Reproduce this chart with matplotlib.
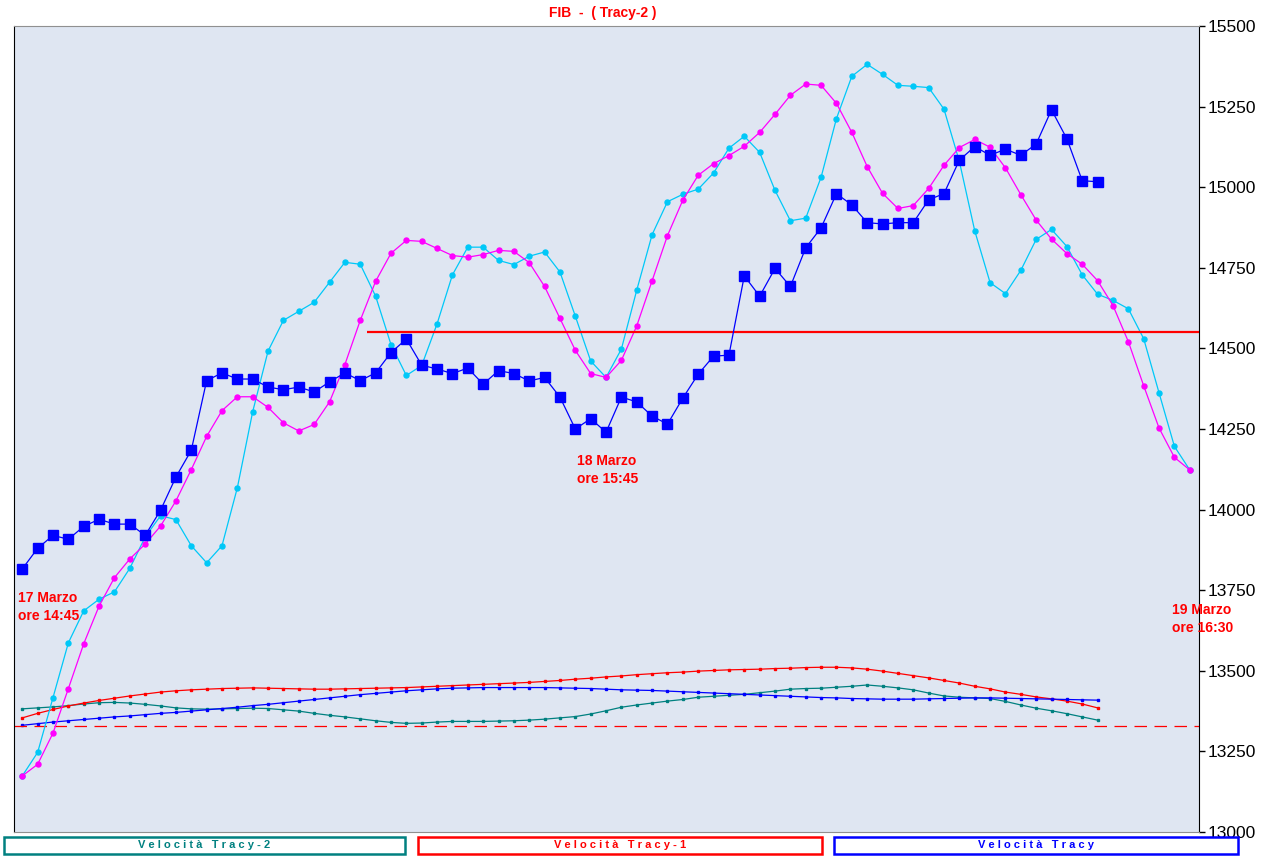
import matplotlib
matplotlib.use("Agg")
import matplotlib.pyplot as plt
from matplotlib.patches import Rectangle

plt.rcParams['font.family'] = ['Liberation Sans', 'DejaVu Sans']

# prezzo FIB (quadrati blu)
fib = [13816, 13880, 13920, 13908, 13948, 13970, 13955, 13955, 13920, 13998,
       14101, 14184, 14400, 14424, 14405, 14405, 14380, 14372, 14380, 14365,
       14396, 14424, 14400, 14424, 14487, 14529, 14448, 14436, 14422, 14439,
       14389, 14431, 14422, 14399, 14410, 14349, 14250, 14282, 14240, 14349,
       14334, 14290, 14265, 14346, 14420, 14476, 14479, 14725, 14662, 14748,
       14692, 14812, 14874, 14980, 14945, 14890, 14886, 14890, 14890, 14961,
       14980, 15084, 15126, 15099, 15118, 15099, 15134, 15240, 15150, 15020, 15017]

# curva magenta
tracy_1 = [13174, 13210, 13307, 13445, 13584, 13701, 13789, 13847, 13893, 13949,
           14027, 14124, 14227, 14307, 14350, 14350, 14317, 14269, 14244, 14264,
           14334, 14450, 14587, 14708, 14795, 14835, 14832, 14810, 14788, 14783,
           14791, 14804, 14801, 14766, 14692, 14593, 14494, 14422, 14410, 14463,
           14570, 14710, 14850, 14960, 15037, 15073, 15098, 15127, 15170, 15226,
           15285, 15320, 15316, 15260, 15170, 15064, 14981, 14934, 14943, 14996,
           15068, 15123, 15148, 15124, 15060, 14977, 14898, 14839, 14794, 14761,
           14710, 14633, 14521, 14384, 14253, 14162, 14123]

# curva azzurra
tracy_2 = [13174, 13247, 13417, 13587, 13686, 13722, 13745, 13818, 13915, 13981,
           13969, 13888, 13835, 13888, 14068, 14304, 14492, 14587, 14615, 14643,
           14705, 14767, 14761, 14662, 14512, 14416, 14447, 14576, 14728, 14814,
           14814, 14773, 14760, 14786, 14799, 14737, 14600, 14461, 14410, 14498,
           14681, 14853, 14955, 14978, 14994, 15044, 15121, 15158, 15108, 14990,
           14896, 14904, 15031, 15213, 15344, 15381, 15350, 15316, 15313, 15309,
           15242, 15080, 14865, 14704, 14670, 14742, 14838, 14869, 14816, 14728,
           14668, 14649, 14623, 14530, 14362, 14196, 14123]

# velocita'
vel_tracy2 = [13382, 13385, 13388, 13392, 13397, 13401, 13402, 13400, 13396, 13391,
              13385, 13382, 13381, 13382, 13383, 13384, 13383, 13379, 13375, 13368,
              13362, 13357, 13351, 13345, 13340, 13337, 13338, 13341, 13343, 13343,
              13343, 13344, 13345, 13347, 13350, 13354, 13358, 13366, 13376, 13387,
              13394, 13400, 13406, 13411, 13418, 13421, 13424, 13427, 13432, 13437,
              13443, 13445, 13446, 13449, 13452, 13456, 13452, 13447, 13441, 13431,
              13422, 13418, 13416, 13414, 13405, 13394, 13384, 13376, 13367, 13357, 13347]

vel_tracy1 = [13354, 13368, 13380, 13391, 13400, 13408, 13415, 13422, 13428, 13434,
              13438, 13441, 13443, 13445, 13446, 13447, 13446, 13445, 13444, 13443,
              13443, 13444, 13445, 13446, 13447, 13448, 13450, 13452, 13454, 13456,
              13458, 13460, 13462, 13464, 13467, 13470, 13474, 13477, 13481, 13484,
              13488, 13491, 13494, 13496, 13499, 13501, 13503, 13504, 13505, 13507,
              13508, 13510, 13511, 13511, 13509, 13505, 13499, 13492, 13485, 13478,
              13470, 13462, 13452, 13444, 13434, 13427, 13419, 13413, 13406, 13397, 13385]

vel_tracy = [13331, 13336, 13341, 13345, 13349, 13353, 13357, 13360, 13364, 13368,
             13371, 13375, 13379, 13383, 13387, 13392, 13396, 13401, 13406, 13411,
             13416, 13421, 13426, 13430, 13434, 13438, 13441, 13444, 13446, 13447,
             13448, 13448, 13448, 13448, 13448, 13447, 13446, 13445, 13443, 13441,
             13440, 13439, 13437, 13435, 13433, 13431, 13429, 13427, 13425, 13423,
             13421, 13419, 13417, 13416, 13414, 13413, 13412, 13412, 13412, 13413,
             13414, 13415, 13416, 13416, 13415, 13414, 13413, 13412, 13411, 13410, 13409]

livello = 14550
base = 13330
yticks = list(range(13000, 15501, 250))

W, H = 1261, 858
fig = plt.figure(figsize=(W / 100, H / 100), dpi=100, facecolor='white')


def fx(x):
    return x / W


def fy(y):
    return 1 - y / H


ax = fig.add_axes([fx(14), fy(832), fx(1199) - fx(14), fy(26) - fy(832)])
ax.set_facecolor('#dfe6f2')

x_fib = range(len(fib))
x_tr = range(len(tracy_1))

ax.plot(range(len(vel_tracy2)), vel_tracy2, color='#008080', lw=0.9, marker='s', ms=1.6, zorder=2)
ax.plot(range(len(vel_tracy1)), vel_tracy1, color='#ff0000', lw=0.9, marker='s', ms=1.6, zorder=2)
ax.plot(range(len(vel_tracy)), vel_tracy, color='#0000ff', lw=0.9, marker='s', ms=1.6, zorder=2)
ax.axhline(base, color='#ff0000', lw=0.9, dashes=(10, 6), zorder=2)

ax.plot(x_tr, tracy_2, color='#00c8f8', lw=0.9, marker='o', ms=3.6, zorder=3)
ax.plot(x_tr, tracy_1, color='#ff00ff', lw=0.9, marker='o', ms=3.6, zorder=4)
ax.hlines(livello, 22.45, 80, color='#ff0000', lw=1.6, zorder=5)
ax.plot(x_fib, fib, color='#0000ff', lw=0.9, marker='s', ms=7.8, zorder=6)

ax.set_xlim(-0.54, 76.6)
ax.set_ylim(13000, 15500)
ax.set_xticks([])
ax.yaxis.tick_right()
ax.set_yticks(yticks)
ax.tick_params(axis='y', direction='out', length=4, width=1, pad=2, labelsize=12.5)
for s in ['top', 'bottom']:
    ax.spines[s].set_color('#909090')
for s in ['left', 'right']:
    ax.spines[s].set_color('black')

fig.text(fx(603), fy(13), "FIB  -  ( Tracy-2 )", color='#ff0000', fontsize=10,
         fontweight='bold', ha='center', va='center')

note = dict(color='#ff0000', fontsize=10, fontweight='bold', ha='left', va='top', linespacing=1.35)
fig.text(fx(18), fy(591), "17 Marzo\nore 14:45", **note)
fig.text(fx(577), fy(454), "18 Marzo\nore 15:45", **note)
fig.text(fx(1172), fy(603), "19 Marzo\nore 16:30", **note)

legenda = [("Velocità Tracy-2", '#008080', 4, 405),
           ("Velocità Tracy-1", '#ff0000', 418, 822),
           ("Velocità Tracy", '#0000ff', 834, 1238)]
for testo, col, x0, x1 in legenda:
    fig.add_artist(Rectangle((fx(x0), fy(854)), fx(x1) - fx(x0), fy(837) - fy(854),
                             transform=fig.transFigure, facecolor='white',
                             edgecolor=col, lw=1.8))
    spaziato = "   ".join(" ".join(w) for w in testo.split(" "))
    fig.text(fx((x0 + x1) / 2), fy(845.5), spaziato, color=col, fontsize=8,
             fontweight='bold', ha='center', va='center')

fig.savefig("out.png", dpi=100, facecolor='white')
